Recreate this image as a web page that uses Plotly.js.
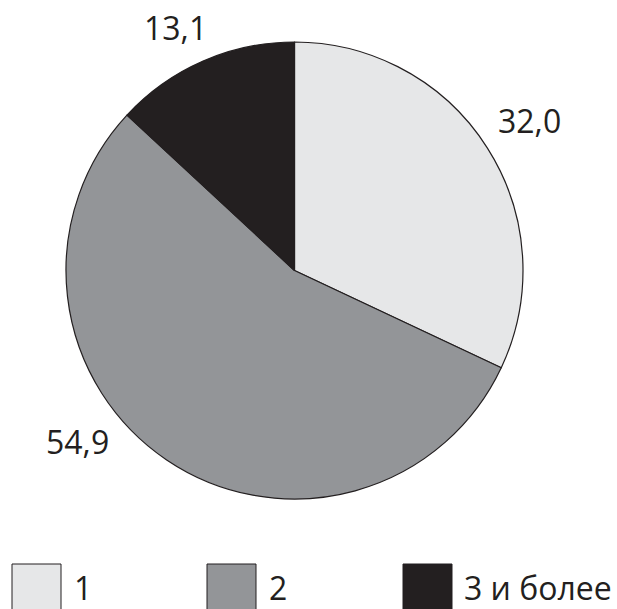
<!DOCTYPE html>
<html>
<head>
<meta charset="utf-8">
<script src="https://cdn.plot.ly/plotly-3.0.1.min.js"></script>
<style>html,body{margin:0;padding:0;background:#fff;}#chart{width:617px;height:609px;}</style>
</head>
<body>
<div id="chart"></div>
<script>
const categories = ["1", "2", "3 и более"];
const values = [32.0, 54.9, 13.1];
const valueLabels = ["32,0", "54,9", "13,1"];
const colors = ["#e6e7e8", "#939598", "#231f20"];

const W = 617, H = 609;
const px = x => x / W;
const py = y => 1 - y / H;
const FONT = "Open Sans, sans-serif";
const TXT = "#231f20";

const trace = {
  type: "pie",
  labels: categories,
  values: values,
  sort: false,
  direction: "clockwise",
  rotation: 0,
  textinfo: "none",
  hoverinfo: "none",
  showlegend: false,
  marker: { colors: colors, line: { color: "#231f20", width: 1.2 } },
  domain: { x: [px(66), px(523)], y: [py(499), py(42)] }
};

// value label positions (paper px)
const labelPos = [[529, 121], [77, 441], [175, 28]];
const annotations = [];
values.forEach((v, i) => {
  annotations.push({
    xref: "paper", yref: "paper",
    x: px(labelPos[i][0]), y: py(labelPos[i][1]),
    text: valueLabels[i], showarrow: false,
    xanchor: "center", yanchor: "middle",
    font: { family: FONT, size: 32, color: TXT }
  });
});

// legend
const legX = [12, 207, 403];
const legTextX = [72, 267, 462];
const shapes = [];
categories.forEach((c, i) => {
  shapes.push({
    type: "rect", xref: "paper", yref: "paper",
    x0: px(legX[i]), x1: px(legX[i] + 49),
    y0: py(614), y1: py(564),
    fillcolor: colors[i], line: { color: "#231f20", width: 1 }
  });
  annotations.push({
    xref: "paper", yref: "paper",
    x: px(legTextX[i]), y: py(587),
    text: c, showarrow: false,
    xanchor: "left", yanchor: "middle",
    font: { family: FONT, size: 32, color: TXT }
  });
});

const layout = {
  width: W, height: H,
  margin: { l: 0, r: 0, t: 0, b: 0 },
  paper_bgcolor: "#ffffff",
  plot_bgcolor: "#ffffff",
  showlegend: false,
  annotations: annotations,
  shapes: shapes
};

Plotly.newPlot("chart", [trace], layout, { displayModeBar: false, staticPlot: true });
</script>
</body>
</html>
